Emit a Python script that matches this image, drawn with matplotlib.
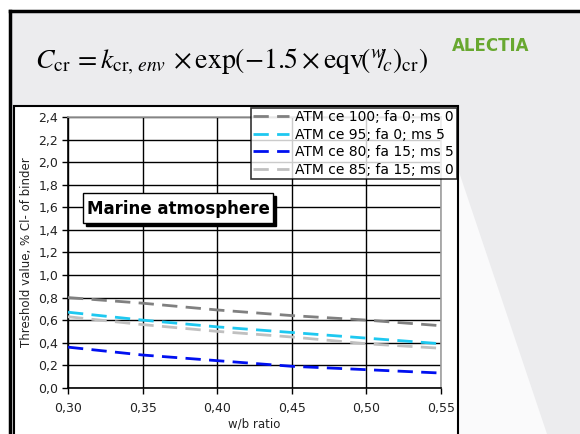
import matplotlib
matplotlib.use("Agg")
import matplotlib.pyplot as plt
from matplotlib.patches import Rectangle, Polygon

W, H = 580, 434

wb = [0.30, 0.35, 0.40, 0.45, 0.50, 0.55]
s_ce100 = [0.80, 0.75, 0.69, 0.64, 0.60, 0.55]
s_ce95 = [0.67, 0.60, 0.54, 0.49, 0.44, 0.39]
s_ce80 = [0.36, 0.29, 0.24, 0.19, 0.16, 0.13]
s_ce85 = [0.63, 0.56, 0.50, 0.45, 0.39, 0.35]
labels = ["ATM ce 100; fa 0; ms 0", "ATM ce 95; fa 0; ms 5",
          "ATM ce 80; fa 15; ms 5", "ATM ce 85; fa 15; ms 0"]
colors = ["#808080", "#1ec8f0", "#0010f0", "#c0c0c0"]
xticks = [0.30, 0.35, 0.40, 0.45, 0.50, 0.55]
yticks = [0.0, 0.2, 0.4, 0.6, 0.8, 1.0, 1.2, 1.4, 1.6, 1.8, 2.0, 2.2, 2.4]

fig = plt.figure(figsize=(W / 100, H / 100), dpi=100)
fig.patch.set_facecolor("white")

def fx(px):
    return px / W

def fy(py):
    return 1 - py / H

# slide background
fig.patches.append(Rectangle((fx(10), 0), 1 - fx(10), fy(11), transform=fig.transFigure,
                             facecolor="#ececee", edgecolor="none", zorder=0))
fig.patches.append(Polygon([(fx(455), fy(160)), (fx(455), fy(434)), (fx(547), fy(434))],
                           closed=True, transform=fig.transFigure,
                           facecolor="#fafafb", edgecolor="none", zorder=0))
# slide frame lines
fig.add_artist(plt.Line2D([fx(10), fx(10)], [0, fy(11)], color="black", lw=2.5,
                          transform=fig.transFigure))
fig.add_artist(plt.Line2D([fx(10), 1], [fy(11), fy(11)], color="black", lw=2.5,
                          transform=fig.transFigure))
# chart box
fig.patches.append(Rectangle((fx(13.5), fy(440)), fx(458) - fx(13.5), fy(106) - fy(440),
                             transform=fig.transFigure, facecolor="white",
                             edgecolor="black", lw=1.5, zorder=1))

# formula
plt.rcParams["mathtext.fontset"] = "stix"
fig.text(fx(35), fy(62),
         r"$C_{\mathrm{cr}}\, = k_{\mathrm{cr},\, env}\, \times \exp\!\left(-1.5\times \mathrm{eqv}\!\left({}^{w}\!\!/\!_{c}\right)_{\mathrm{cr}}\right)$",
         fontsize=20, va="center", ha="left", family="STIXGeneral")
# logo
fig.text(fx(491), fy(46), "ALECTIA", fontsize=12, fontweight="heavy", color="#68a830",
         ha="center", va="center", family="DejaVu Sans")

ax = fig.add_axes([fx(68), fy(387.7), fx(441) - fx(68), fy(117.3) - fy(387.7)])
ax.set_zorder(2)
ax.set_facecolor("white")
series = [s_ce100, s_ce95, s_ce80, s_ce85]
for s, c, lab in zip(series, colors, labels):
    ax.plot(wb, s, color=c, lw=2, dashes=(5.5, 3), label=lab, zorder=3)

ax.set_xlim(0.30, 0.55)
ax.set_ylim(0, 2.4)
ax.set_xticks(xticks)
ax.set_yticks(yticks)
ax.set_xticklabels([f"{v:.2f}".replace(".", ",") for v in xticks], fontsize=9, color="#222222")
ax.set_yticklabels([f"{v:.1f}".replace(".", ",") for v in yticks], fontsize=9, color="#222222")
ax.tick_params(direction="out", length=4, width=1, color="black", pad=3)
ax.tick_params(axis="x", pad=6)
ax.grid(True, color="black", lw=1)
ax.set_axisbelow(True)
for sp in ["left", "bottom"]:
    ax.spines[sp].set_color("black")
    ax.spines[sp].set_linewidth(1.2)
for sp in ["top", "right"]:
    ax.spines[sp].set_color("#a0a0a0")
    ax.spines[sp].set_linewidth(1.2)

ax.set_xlabel("w/b ratio", fontsize=8.5, color="#222222", labelpad=2)
ax.set_ylabel("Threshold value, % Cl- of binder", fontsize=8.5, color="#222222", labelpad=4)

leg = fig.legend(loc="upper right", bbox_to_anchor=(fx(456.5), fy(107.5)),
                 fontsize=10, frameon=True, fancybox=False, handlelength=2.6,
                 borderpad=0.2, labelspacing=0.25, handletextpad=0.4, borderaxespad=0)
leg.get_frame().set_edgecolor("black")
leg.get_frame().set_linewidth(1.2)
leg.set_zorder(5)

# Marine atmosphere label with shadow
fig.patches.append(Rectangle((fx(86), fy(226)), fx(273) - fx(83), fy(193) - fy(223),
                             transform=fig.transFigure, facecolor="black",
                             edgecolor="black", zorder=4))
fig.patches.append(Rectangle((fx(83), fy(223)), fx(273) - fx(83), fy(193) - fy(223),
                             transform=fig.transFigure, facecolor="white",
                             edgecolor="black", lw=1, zorder=4))
fig.text(fx(178.5), fy(208.5), "Marine atmosphere", fontsize=12, fontweight="bold",
         ha="center", va="center", zorder=6)

fig.savefig("out.png", dpi=100)
